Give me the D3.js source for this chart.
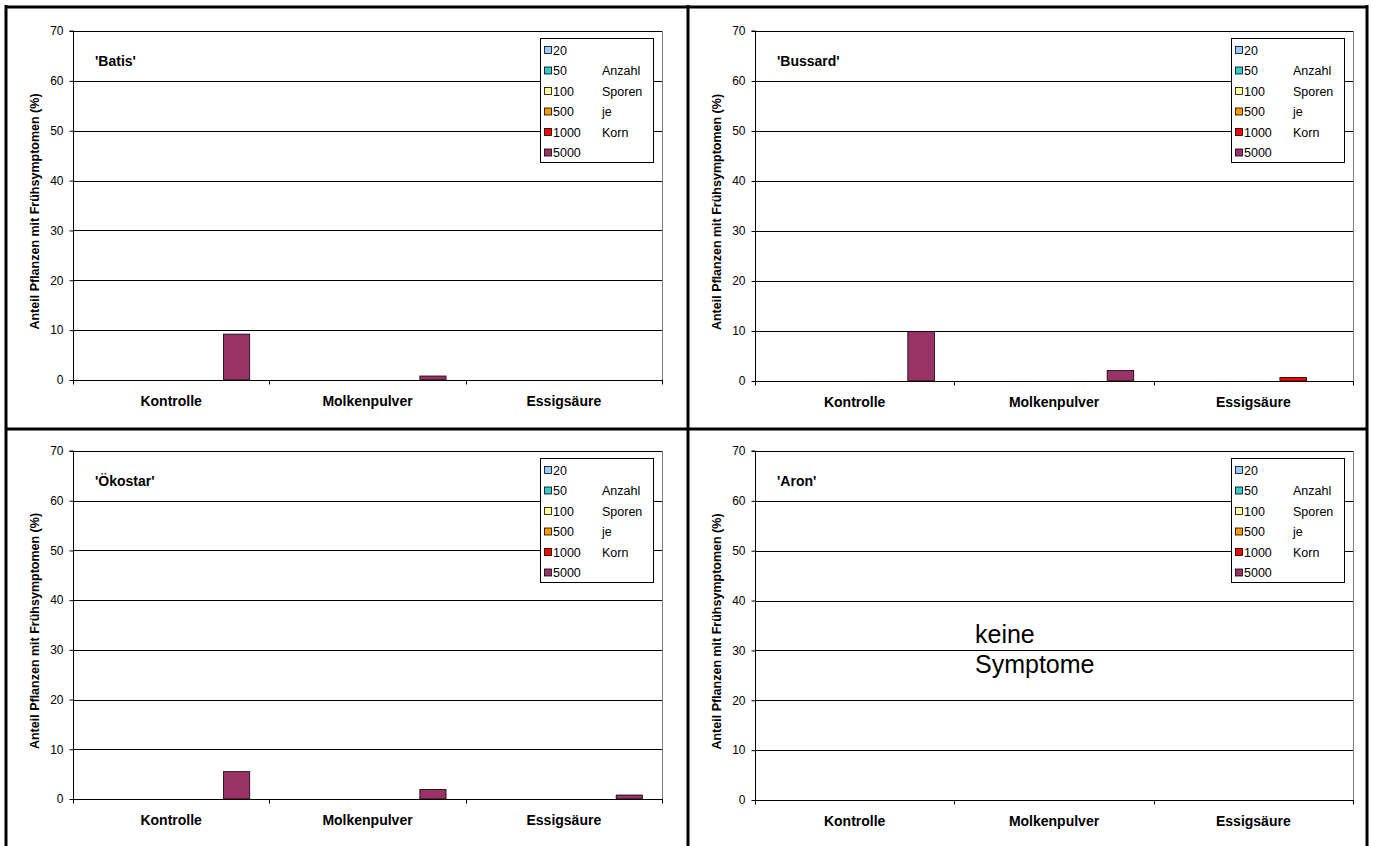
<!DOCTYPE html>
<html>
<head>
<meta charset="utf-8">
<script src="https://cdn.jsdelivr.net/npm/d3@7"></script>
<style>
  html, body { margin: 0; padding: 0; background: #fff; }
  svg { display: block; font-family: "Liberation Sans", Arial, sans-serif; }
</style>
</head>
<body>
<svg id="chart" width="1373" height="846"></svg>
<script>
// ---- data ----
const categories = ["Kontrolle", "Molkenpulver", "Essigsäure"];
const seriesNames = ["20", "50", "100", "500", "1000", "5000"];
const legendNotes = ["", "Anzahl", "Sporen", "je", "Korn", ""];
const seriesColors = ["#99CCFF", "#33CCCC", "#FFFF99", "#FF9900", "#FF0000", "#993366"];
const yTicks = [0, 10, 20, 30, 40, 50, 60, 70];
const yTitle = "Anteil Pflanzen mit Frühsymptomen (%)";
const varieties = ["'Batis'", "'Bussard'", "'Ökostar'", "'Aron'"];

// values[series][category]
const batis = [
  [0, 0, 0], [0, 0, 0], [0, 0, 0], [0, 0, 0], [0, 0, 0], [9.2, 0.8, 0]
];
const bussard = [
  [0, 0, 0], [0, 0, 0], [0, 0, 0], [0, 0, 0], [0, 0, 0.7], [9.9, 2.1, 0]
];
const oekostar = [
  [0, 0, 0], [0, 0, 0], [0, 0, 0], [0, 0, 0], [0, 0, 0], [5.5, 1.9, 0.8]
];
const aron = [
  [0, 0, 0], [0, 0, 0], [0, 0, 0], [0, 0, 0], [0, 0, 0], [0, 0, 0]
];
const noteText = ["keine", "Symptome"];

// ---- layout ----
const panels = [
  { name: varieties[0], data: batis,    left: 73,  right: 662,  top: 31,  bottom: 380, note: false },
  { name: varieties[1], data: bussard,  left: 755, right: 1353, top: 31,  bottom: 381, note: false },
  { name: varieties[2], data: oekostar, left: 73,  right: 662,  top: 451, bottom: 799, note: false },
  { name: varieties[3], data: aron,     left: 755, right: 1353, top: 451, bottom: 800, note: true }
];

const svg = d3.select("#chart");

// outer frame & dividers
const frame = svg.append("g").attr("stroke", "#000").attr("stroke-width", 3);
frame.append("line").attr("x1", 6).attr("x2", 6).attr("y1", 5).attr("y2", 846);
frame.append("line").attr("x1", 1367).attr("x2", 1367).attr("y1", 5).attr("y2", 846);
frame.append("line").attr("x1", 688).attr("x2", 688).attr("y1", 5).attr("y2", 846);
frame.append("line").attr("x1", 5).attr("x2", 1368).attr("y1", 7).attr("y2", 7);
frame.append("line").attr("x1", 5).attr("x2", 1368).attr("y1", 429).attr("y2", 429);

panels.forEach(p => {
  const g = svg.append("g");
  const y = d3.scaleLinear().domain([0, 70]).range([p.bottom, p.top]);
  const x0 = d3.scaleBand().domain(categories).range([p.left, p.right]).paddingInner(0).paddingOuter(0);
  const x1 = d3.scaleBand().domain(seriesNames).range([0, x0.bandwidth()]).paddingInner(0).paddingOuter(0.75);

  // gridlines
  g.append("g").selectAll("line").data(yTicks.filter(t => t > 0)).join("line")
    .attr("x1", p.left).attr("x2", p.right)
    .attr("y1", d => Math.round(y(d)) + 0.5).attr("y2", d => Math.round(y(d)) + 0.5)
    .attr("stroke", "#000").attr("stroke-width", 1);

  // plot area right border
  g.append("line")
    .attr("x1", p.right + 0.5).attr("x2", p.right + 0.5)
    .attr("y1", p.top).attr("y2", p.bottom)
    .attr("stroke", "#808080").attr("stroke-width", 1);

  // bars
  const bars = [];
  seriesNames.forEach((s, si) => {
    categories.forEach((c, ci) => {
      bars.push({ s, si, c, v: p.data[si][ci] });
    });
  });
  g.append("g").selectAll("rect").data(bars.filter(d => d.v > 0)).join("rect")
    .attr("x", d => x0(d.c) + x1(d.s))
    .attr("y", d => y(d.v))
    .attr("width", x1.bandwidth())
    .attr("height", d => y(0) - y(d.v))
    .attr("fill", d => seriesColors[d.si])
    .attr("stroke", "#000").attr("stroke-width", 0.8);

  // y axis
  const yAxis = d3.axisLeft(y).tickValues(yTicks).tickSize(4).tickPadding(6).tickFormat(d3.format("d"));
  const ya = g.append("g").attr("transform", `translate(${p.left + 0.5},0)`).call(yAxis);
  ya.select(".domain").attr("stroke", "#000").attr("d", `M-4,${p.top}H0V${p.bottom}`);
  ya.selectAll(".tick line").attr("stroke", "#000");
  ya.selectAll(".tick text").attr("font-size", 12).attr("fill", "#000")
    .attr("font-family", "'Liberation Sans', Arial, sans-serif");

  // x axis
  const yb = Math.round(y(0)) + 0.5;
  g.append("line").attr("x1", p.left).attr("x2", p.right + 1).attr("y1", yb).attr("y2", yb)
    .attr("stroke", "#000").attr("stroke-width", 1);
  const bounds = categories.map(c => x0(c)).concat([p.right]);
  g.append("g").selectAll("line").data(bounds).join("line")
    .attr("x1", d => Math.round(d) + 0.5).attr("x2", d => Math.round(d) + 0.5)
    .attr("y1", yb).attr("y2", yb + 4)
    .attr("stroke", "#000");
  g.append("g").selectAll("text").data(categories).join("text")
    .attr("x", d => x0(d) + x0.bandwidth() / 2)
    .attr("y", p.bottom + 26)
    .attr("text-anchor", "middle")
    .attr("font-size", 14).attr("font-weight", "bold")
    .text(d => d);

  // y title
  g.append("text")
    .attr("transform", `translate(${p.left - 34},${(p.top + p.bottom) / 2 + 6}) rotate(-90)`)
    .attr("text-anchor", "middle")
    .attr("font-size", 12.5).attr("font-weight", "bold")
    .text(yTitle);

  // variety label
  g.append("text")
    .attr("x", p.left + 22).attr("y", p.top + 35)
    .attr("font-size", 14).attr("font-weight", "bold")
    .text(p.name);

  // legend
  const lx = p.right - 122, ly = p.top + 7, lw = 113, lh = 124;
  const lg = g.append("g").attr("transform", `translate(${lx},${ly})`);
  lg.append("rect").attr("x", 0.5).attr("y", 0.5).attr("width", lw).attr("height", lh)
    .attr("fill", "#fff").attr("stroke", "#000").attr("stroke-width", 1);
  const rows = lg.selectAll("g.row").data(seriesNames).join("g")
    .attr("class", "row")
    .attr("transform", (d, i) => `translate(0,${12 + i * 20.5})`);
  rows.append("rect").attr("x", 4.5).attr("y", -3.5).attr("width", 7).attr("height", 7)
    .attr("fill", (d, i) => seriesColors[i]).attr("stroke", "#000").attr("stroke-width", 0.8);
  rows.append("text").attr("x", 13).attr("y", 4.5).attr("font-size", 12.5).text(d => d);
  rows.append("text").attr("x", 62).attr("y", 4.5).attr("font-size", 12.5).text((d, i) => legendNotes[i]);

  // note
  if (p.note) {
    g.append("text").attr("x", 975).attr("y", p.top + 192).attr("font-size", 25).text(noteText[0]);
    g.append("text").attr("x", 975).attr("y", p.top + 222).attr("font-size", 25).text(noteText[1]);
  }
});
</script>
</body>
</html>
